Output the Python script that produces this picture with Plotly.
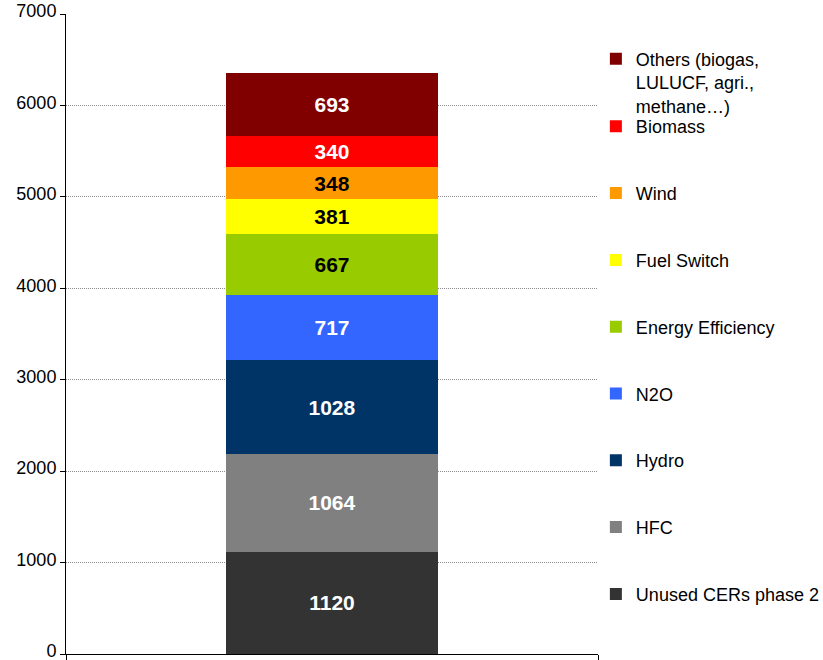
import plotly.graph_objects as go

categories = [
    "Unused CERs phase 2",
    "HFC",
    "Hydro",
    "N2O",
    "Energy Efficiency",
    "Fuel Switch",
    "Wind",
    "Biomass",
    "Others (biogas,<br>LULUCF, agri.,<br>methane…)",
]
values = [1120, 1064, 1028, 717, 667, 381, 348, 340, 693]
colors = ["#333333", "#808080", "#003366", "#3366FF", "#99CC00",
          "#FFFF00", "#FF9900", "#FF0000", "#800000"]
label_colors = ["white", "white", "white", "white", "black",
                "black", "black", "white", "white"]
x_cat = ["CERs"]
y_ticks = [0, 1000, 2000, 3000, 4000, 5000, 6000, 7000]

FONT = "Liberation Sans, Arial, sans-serif"

fig = go.Figure()
n = len(categories)
for i, (name, v) in enumerate(zip(categories, values)):
    fig.add_trace(go.Bar(
        x=x_cat,
        y=[v],
        name=name,
        marker=dict(color=colors[i], line=dict(width=0)),
        text=[str(v)],
        textposition="inside",
        insidetextanchor="middle",
        textangle=0,
        constraintext="none",
        textfont=dict(color=label_colors[i], size=21, family=FONT, weight="bold"),
        width=0.397,
        legendgroup=str(i),
        legendrank=(n - i) * 10,
        legend="legend2" if i == n - 1 else "legend",
        hoverinfo="name+y",
    ))

fig.update_layout(
    barmode="stack",
    width=823,
    height=660,
    margin=dict(l=66, r=225, t=14, b=6, autoexpand=False),
    paper_bgcolor="white",
    plot_bgcolor="white",
    font=dict(family=FONT, size=18, color="black"),
    legend=dict(
        x=0.996, y=0.853, xanchor="left", yanchor="top",
        traceorder="grouped", tracegroupgap=40.4,
        font=dict(size=18, family=FONT), bgcolor="rgba(0,0,0,0)",
    ),
    legend2=dict(
        x=0.996, y=0.9586, xanchor="left", yanchor="top",
        valign="top",
        font=dict(size=18, family=FONT), bgcolor="rgba(0,0,0,0)",
    ),
    xaxis=dict(
        type="category",
        range=[-0.5, 0.5],
        showticklabels=False,
        ticks="outside", tickson="boundaries", ticklen=5,
        tickcolor="black",
        showline=True, linecolor="black", linewidth=1,
        showgrid=False, zeroline=False, automargin=False,
    ),
    yaxis=dict(
        range=[0, 7000],
        tickvals=y_ticks,
        ticks="outside", ticklen=5, tickcolor="black",
        showline=True, linecolor="black", linewidth=1,
        showgrid=True, gridcolor="#8c8c8c", gridwidth=1, griddash="1px,1px",
        zeroline=False, automargin=False,
        ticklabeloverflow="allow",
        ticklabelshift=-3,
        tickfont=dict(size=18, family=FONT),
    ),
)

fig.write_html("out.html")
